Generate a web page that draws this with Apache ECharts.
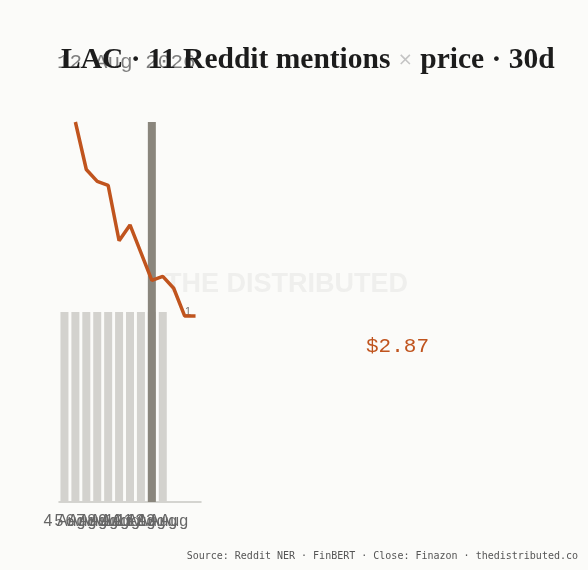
<!DOCTYPE html>
<html>
<head>
<meta charset="utf-8">
<script src="https://cdn.jsdelivr.net/npm/echarts@6/dist/echarts.min.js"></script>
<style>
  html, body { margin: 0; padding: 0; background: #fbfbf9; }
  #grafik { width: 588px; height: 570px; }
</style>
</head>
<body>
<div id="grafik"></div>
<script>
// days on the x axis (Aug 2026)
var days = ['4 Aug', '5 Aug', '6 Aug', '7 Aug', '8 Aug', '9 Aug', '10 Aug',
            '11 Aug', '12 Aug', '13 Aug', '14 Aug', '15 Aug', '16 Aug'];
// reddit mentions per day
var mentions = [1, 1, 1, 1, 1, 1, 1, 1, 1, 1, null, null, null];
// highlighted day (12 Aug)
var highlight = [null, null, null, null, null, null, null, null, 2, null, null, null, null];
// close price
var closes = [null, 3.36, 3.24, 3.21, 3.20, 3.06, 3.10, 3.03, 2.96, 2.97, 2.94, 2.87, 2.87];

var grafik = echarts.init(document.getElementById('grafik'));

var option = {
  backgroundColor: '#fbfbf9',
  animation: false,
  title: {
    text: 'LAC · 11 Reddit mentions {x|×} price · 30d',
    left: 56,
    top: 40,
    textStyle: {
      fontFamily: 'Liberation Serif',
      fontWeight: 'bold',
      fontSize: 29.5,
      color: '#1c1c1c',
      rich: {
        x: { fontFamily: 'DejaVu Sans', fontSize: 18, color: '#c4c4c4', fontWeight: 'normal' }
      }
    }
  },
  grid: { left: 59, right: 387, top: 122, bottom: 68 },
  xAxis: {
    type: 'category',
    data: days,
    axisTick: { show: false },
    axisLine: { lineStyle: { color: '#c8c7c2', width: 1.5 } },
    axisLabel: {
      interval: 0,
      color: '#666',
      fontFamily: 'Liberation Sans',
      fontSize: 16,
      margin: 12,
      formatter: function (v, i) { return mentions[i] ? v : ''; }
    }
  },
  yAxis: [
    { type: 'value', min: 0, max: 2, show: false },
    { type: 'value', min: 2.4, max: 3.36, show: false }
  ],
  series: [
    {
      type: 'bar',
      data: mentions,
      barWidth: 8,
      itemStyle: { color: '#d3d2ce' }
    },
    {
      type: 'bar',
      data: highlight,
      barWidth: 8,
      barGap: '-100%',
      itemStyle: { color: '#8a867d' }
    },
    {
      type: 'line',
      yAxisIndex: 1,
      data: closes,
      symbol: 'none',
      lineStyle: { color: '#c0541e', width: 3.5 },
      z: 5
    }
  ],
  graphic: [
    {
      type: 'text', left: 57, top: 52, z: 1,
      style: { text: '12 Aug 2026', fontFamily: 'Liberation Mono', fontSize: 21, fill: 'rgba(95,95,95,0.8)' }
    },
    {
      type: 'text', left: 165, top: 271, z: 0,
      style: { text: 'THE DISTRIBUTED', fontFamily: 'Liberation Sans', fontWeight: 'bold', fontSize: 27, fill: '#efefed' }
    },
    {
      type: 'text', left: 185, top: 306, z: 0,
      style: { text: '1', fontFamily: 'Liberation Sans', fontSize: 11, fill: '#777' }
    },
    {
      type: 'text', left: 366, top: 336, z: 6,
      style: { text: '$2.87', fontFamily: 'Liberation Mono', fontSize: 21, fill: '#c0541e' }
    },
    {
      type: 'text', right: 10, top: 551,
      style: { text: 'Source: Reddit NER · FinBERT · Close: Finazon · thedistributed.co', fontFamily: 'DejaVu Sans Mono', fontSize: 10, fill: '#555' }
    }
  ]
};

grafik.setOption(option);
</script>
</body>
</html>
